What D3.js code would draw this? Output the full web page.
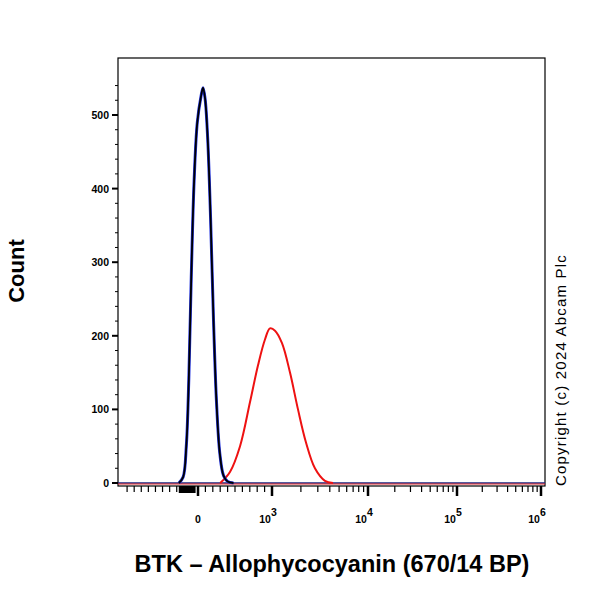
<!DOCTYPE html>
<html><head><meta charset="utf-8">
<script src="https://cdn.jsdelivr.net/npm/d3@7"></script>
<style>body{margin:0;background:#fff}text{font-family:Arial,"Liberation Sans",sans-serif}</style>
</head><body>
<script>
// control (black/blue) and stained (red) histograms: [value, count]
var controlCurve = [[-270,0],[-210,8],[-165,50],[-130,140],[-95,280],[-55,410],[-10,490],[40,525],[68,537],[96,522],[130,470],[170,360],[210,220],[250,110],[295,40],[345,10],[400,2],[480,0]];
var stainedCurve = [[300,0],[432,15],[568,50],[703,110],[811,160],[905,195],[973,210],[1075,207],[1271,190],[1540,150],[1865,100],[2260,55],[2800,20],[3560,3],[4320,0]];
var yTicks = [0,100,200,300,400,500];
var xDecades = [3,4,5,6];

var svg = d3.select("body").append("svg").attr("width",600).attr("height",600);
var L=118,R=545,T=58,B=486;

var lin = d3.scaleLinear().domain([-1100,0,1000]).range([L+2,198,272]);
var logS = d3.scaleLinear().domain([3,4,5,6]).range([272,368,457,541]);
function x(v){ return v<1000 ? lin(v) : logS(Math.log10(v)); }
var y = d3.scaleLinear().domain([0,500]).range([483,115]);

svg.append("rect").attr("x",L).attr("y",T).attr("width",R-L).attr("height",B-T)
  .attr("fill","none").attr("stroke","#000").attr("stroke-width",1.2);

// y axis
var yAxis = svg.append("g");
d3.range(0,541,20).forEach(function(v){
  var major = v%100===0;
  yAxis.append("line").attr("x1",L-(major?6:3)).attr("x2",L).attr("y1",y(v)).attr("y2",y(v))
    .attr("stroke","#000").attr("stroke-width",major?2:1);
});
yTicks.forEach(function(v){
  yAxis.append("text").attr("x",L-9).attr("y",y(v)+4).attr("text-anchor","end")
    .attr("font-size",10.5).attr("font-weight","bold").text(v);
});

// x axis ticks
var xt = [];
d3.range(-1000,0,100).forEach(function(v){ xt.push([v,false]); });
d3.range(0,1000,100).forEach(function(v){ xt.push([v,v===0]); });
xDecades.forEach(function(d){
  xt.push([Math.pow(10,d),true]);
  if(d<6) d3.range(2,10).forEach(function(m){ xt.push([m*Math.pow(10,d),false]); });
});
xt.forEach(function(t){
  svg.append("line").attr("x1",x(t[0])).attr("x2",x(t[0])).attr("y1",B).attr("y2",B+(t[1]?10:6))
    .attr("stroke","#000").attr("stroke-width",t[1]?2.5:1.2);
});
d3.range(-250,-40,15).forEach(function(v){
  svg.append("line").attr("x1",x(v)).attr("x2",x(v)).attr("y1",B).attr("y2",B+7).attr("stroke","#000").attr("stroke-width",3);
});
svg.append("text").attr("x",x(0)).attr("y",523).attr("text-anchor","middle").attr("font-size",10.5).attr("font-weight","bold").text("0");
xDecades.forEach(function(d){
  var t = svg.append("text").attr("x",x(Math.pow(10,d))-4).attr("y",523).attr("text-anchor","middle")
    .attr("font-size",10.5).attr("font-weight","bold");
  t.append("tspan").text("10");
  t.append("tspan").attr("dy",-7).attr("font-size",10.5).text(d);
});

// curves
var line = d3.line().x(function(d){return x(d[0]);}).y(function(d){return y(d[1]);}).curve(d3.curveCatmullRom.alpha(0.5));
svg.append("line").attr("x1",L).attr("x2",R).attr("y1",y(0)).attr("y2",y(0)).attr("stroke","#1a237e").attr("stroke-width",1.5);
svg.append("line").attr("x1",L).attr("x2",R).attr("y1",y(0)+1).attr("y2",y(0)+1).attr("stroke","#e02020").attr("stroke-width",1);
svg.append("path").datum(stainedCurve).attr("d",line).attr("fill","none").attr("stroke","#ee1111").attr("stroke-width",2);
svg.append("path").datum(controlCurve).attr("d",line).attr("fill","none").attr("stroke","#2233dd").attr("stroke-width",3);
svg.append("path").datum(controlCurve).attr("d",line).attr("fill","none").attr("stroke","#000").attr("stroke-width",1.8);

// titles
svg.append("text").attr("transform","translate(24,271) rotate(-90)").attr("text-anchor","middle")
  .attr("font-size",22).attr("font-weight","bold").text("Count");
svg.append("text").attr("x",332).attr("y",572).attr("text-anchor","middle")
  .attr("font-size",23.5).attr("font-weight","bold").text("BTK \u2013 Allophycocyanin (670/14 BP)");
svg.append("text").attr("transform","translate(566,370) rotate(-90)").attr("text-anchor","middle")
  .attr("font-size",15).attr("letter-spacing",1.2).text("Copyright (c) 2024 Abcam Plc");
</script>
</body></html>
